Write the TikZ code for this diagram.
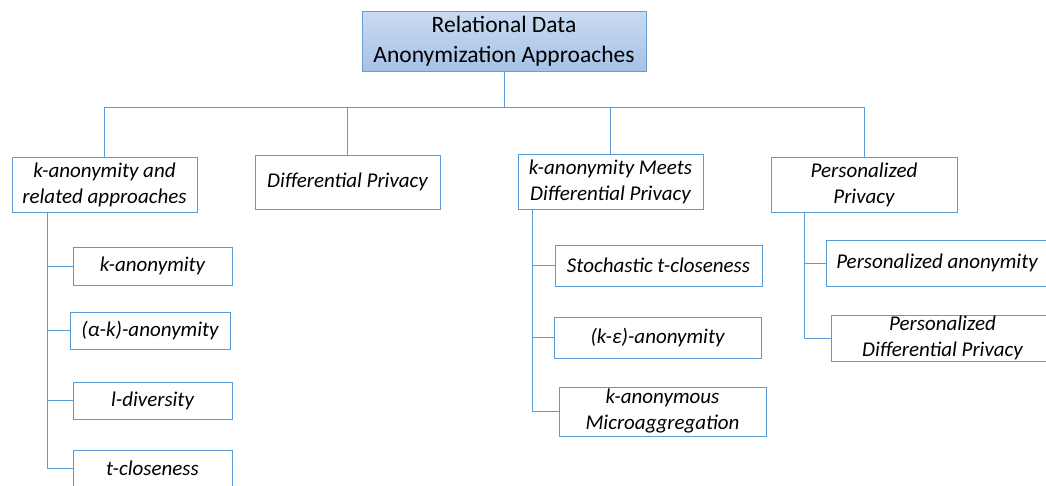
\documentclass[tikz,border=0pt]{standalone}
\usepackage{fontspec}
\setmainfont{Carlito}
\definecolor{lineblue}{HTML}{5B9BD5}
\definecolor{rootedge}{HTML}{6C9BD2}
\definecolor{roottop}{HTML}{C9DBF1}
\definecolor{rootbot}{HTML}{A6C2E7}
\begin{document}
\begin{tikzpicture}[x=1pt,y=-1pt,
  itembox/.style={draw=lineblue, line width=0.9pt, fill=white, inner sep=0pt, align=center,
     font=\fontsize{21}{26}\selectfont\itshape, text=black},
  rootbox/.style={draw=rootedge, line width=1pt, top color=roottop, bottom color=rootbot,
     inner sep=0pt, align=center, font=\fontsize{23.5}{30}\selectfont, text=black},
  conn/.style={draw=lineblue, line width=0.9pt}]
\useasboundingbox (0,0) rectangle (1046,485);
\clip (0,0) rectangle (1046,485);
\fill[white] (0,0) rectangle (1046,485);

% root
\node[rootbox, minimum width=284, minimum height=60] (root) at (504,41) {Relational Data\\Anonymization Approaches};

% level 1
\node[itembox, minimum width=185, minimum height=55] (ka) at (104.5,184.5) {k-anonymity and\\related approaches};
\node[itembox, minimum width=185, minimum height=54] (dp) at (347.5,182) {Differential Privacy};
\node[itembox, minimum width=185, minimum height=55] (km) at (610.5,181.5) {k-anonymity Meets\\Differential Privacy};
\node[itembox, minimum width=186, minimum height=55] (pp) at (864,184.5) {Personalized\\Privacy};

% bus
\coordinate (busL) at (104.5,107);
\coordinate (busR) at (864,107);
\draw[conn] (root.south) -- (root.south |- busL);
\draw[conn] (busL) -- (busR);
\foreach \n in {ka,dp,km,pp} \draw[conn] (\n.north) -- (\n.north |- busL);

% left group
\node[itembox, minimum width=159, minimum height=38] (k1) at (152.5,266) {k-anonymity};
\node[itembox, minimum width=160, minimum height=37] (k2) at (150,330.5) {(α-k)-anonymity};
\node[itembox, minimum width=159, minimum height=37] (k3) at (152.5,400.5) {l-diversity};
\node[itembox, minimum width=159, minimum height=37] (k4) at (152.5,468.5) {t-closeness};
\coordinate (kT) at ([xshift=36]ka.south west);
\draw[conn] (kT) |- (k4.west);
\foreach \n in {k1,k2,k3} \draw[conn] (\n.west) -- (\n.west -| kT);

% middle group
\node[itembox, minimum width=207, minimum height=41] (m1) at (658.5,265.5) {Stochastic t-closeness};
\node[itembox, minimum width=207, minimum height=41] (m2) at (657.5,337.5) {(k-ε)-anonymity};
\node[itembox, minimum width=207, minimum height=49] (m3) at (662.5,411.5) {k-anonymous\\Microaggregation};
\coordinate (mT) at ([xshift=15]km.south west);
\draw[conn] (mT) |- (m3.west);
\foreach \n in {m1,m2} \draw[conn] (\n.west) -- (\n.west -| mT);

% right group
\node[itembox, minimum width=222, minimum height=46] (p1) at (937,263) {Personalized anonymity};
\node[itembox, minimum width=223, minimum height=46] (p2) at (942.5,338) {Personalized\\Differential Privacy};
\coordinate (pT) at ([xshift=34]pp.south west);
\draw[conn] (pT) |- (p2.west);
\draw[conn] (p1.west) -- (p1.west -| pT);
\end{tikzpicture}
\end{document}
